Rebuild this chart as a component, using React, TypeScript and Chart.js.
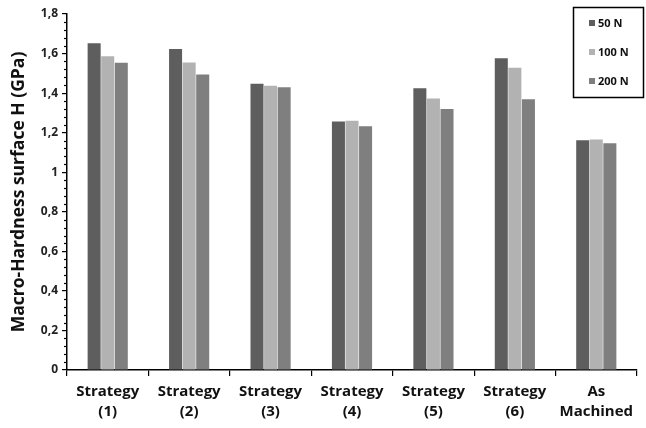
import React, { useEffect, useRef } from 'react';
import { Chart, registerables } from 'chart.js';

Chart.register(...registerables);

const categories: string[][] = [
  ['Strategy', '(1)'],
  ['Strategy', '(2)'],
  ['Strategy', '(3)'],
  ['Strategy', '(4)'],
  ['Strategy', '(5)'],
  ['Strategy', '(6)'],
  ['As', 'Machined'],
];
const seriesLabels = ['50 N', '100 N', '200 N'];
const values50N = [1.652, 1.623, 1.447, 1.256, 1.425, 1.576, 1.162];
const values100N = [1.587, 1.555, 1.437, 1.26, 1.373, 1.528, 1.165];
const values200N = [1.554, 1.494, 1.43, 1.233, 1.32, 1.369, 1.146];
const yMax = 1.8;
const yMajorStep = 0.2;
const yMinorStep = 0.04;

const colors = ['#5e5e5e', '#b2b2b2', '#7f7f7f'];
const FONT = '"Open Sans", Lato, "DejaVu Sans", sans-serif';

const minorTicksPlugin = {
  id: 'minorTicks',
  afterDraw(chart: any) {
    const y = chart.scales.y;
    const ctx = chart.ctx;
    const x0 = chart.chartArea.left;
    ctx.save();
    ctx.strokeStyle = '#000';
    ctx.lineWidth = 1.2;
    const n = Math.round(yMax / yMinorStep);
    const ratio = Math.round(yMajorStep / yMinorStep);
    for (let i = 0; i <= n; i++) {
      if (i % ratio === 0) continue;
      const py = Math.round(y.getPixelForValue(i * yMinorStep)) + 0.5;
      ctx.beginPath();
      ctx.moveTo(x0 - 3, py);
      ctx.lineTo(x0, py);
      ctx.stroke();
    }
    ctx.restore();
  },
};

const legendBoxPlugin = {
  id: 'legendBox',
  afterDraw(chart: any) {
    const ctx = chart.ctx;
    ctx.save();
    ctx.strokeStyle = '#000';
    ctx.lineWidth = 1.5;
    ctx.strokeRect(573.5, 7.5, 70, 90);
    ctx.font = `bold 11px ${FONT}`;
    ctx.textBaseline = 'middle';
    ctx.fillStyle = '#000';
    const ys = [23, 52, 81];
    chart.data.datasets.forEach((ds: any, i: number) => {
      ctx.fillStyle = ds.backgroundColor;
      ctx.fillRect(589, ys[i] - 3, 6, 6);
      ctx.fillStyle = '#111';
      ctx.fillText(ds.label, 598, ys[i] + 0.5);
    });
    ctx.restore();
  },
};

export default function App() {
  const ref = useRef<HTMLCanvasElement>(null);
  useEffect(() => {
    if (!ref.current) return;
    const chart = new Chart(ref.current, {
      type: 'bar',
      data: {
        labels: categories,
        datasets: [values50N, values100N, values200N].map((d, i) => ({
          label: seriesLabels[i],
          data: d,
          backgroundColor: colors[i],
          borderWidth: 0,
          categoryPercentage: 0.5,
          barPercentage: 0.96,
        })),
      },
      options: {
        responsive: false,
        animation: false,
        layout: { padding: { top: 14, right: 9, left: 0, bottom: 0 } },
        plugins: { legend: { display: false }, tooltip: { enabled: false } },
        scales: {
          x: {
            grid: { offset: true, drawOnChartArea: false, drawTicks: true, tickLength: 6, color: '#000', lineWidth: 1.2 },
            border: { display: true, color: '#000', width: 1.5 },
            ticks: { color: '#111', font: { family: FONT, size: 15, weight: 'bold', lineHeight: 1.33 }, padding: 6, maxRotation: 0, autoSkip: false },
            afterFit(scale: any) { scale.height = 58; },
          },
          y: {
            min: 0,
            max: yMax,
            grid: { drawOnChartArea: false, drawTicks: true, tickLength: 5, color: '#000', lineWidth: 1.2 },
            border: { display: true, color: '#000', width: 1.5 },
            ticks: {
              stepSize: yMajorStep,
              color: '#222',
              padding: 4,
              font: { family: FONT, size: 12, weight: 'bold' },
              callback: (v: any) => {
                const n = Math.round(Number(v) * 10) / 10;
                return String(n).replace('.', ',');
              },
            },
            title: { display: true, text: 'Macro-Hardness surface H (GPa)', color: '#111', font: { family: FONT, size: 17.5, weight: 'bold' }, padding: { top: 9, bottom: 2 } },
            afterFit(scale: any) { scale.width = 67; },
          },
        },
      },
      plugins: [minorTicksPlugin, legendBoxPlugin],
    });
    return () => chart.destroy();
  }, []);
  return (
    <div style={{ position: 'fixed', left: 0, top: 0, width: 646, height: 428, background: '#fff' }}>
      <canvas ref={ref} width={646} height={428} />
    </div>
  );
}
